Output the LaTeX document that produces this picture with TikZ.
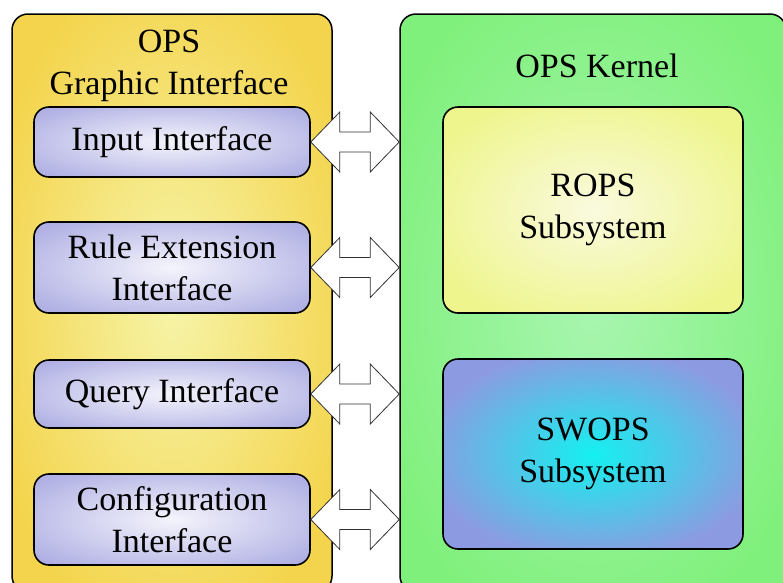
\documentclass[tikz,border=0pt]{standalone}
\usepackage{fontspec}
\setmainfont{Liberation Serif}
\usetikzlibrary{calc}
\definecolor{yEdge}{RGB}{244,212,76}
\definecolor{yMid}{RGB}{246,244,168}
\definecolor{gEdge}{RGB}{128,240,124}
\definecolor{gMid}{RGB}{168,246,176}
\definecolor{lEdge}{RGB}{176,176,228}
\definecolor{lMid}{RGB}{244,244,252}
\definecolor{rEdge}{RGB}{238,245,140}
\definecolor{rMid}{RGB}{250,250,222}
\definecolor{sEdge}{RGB}{140,155,225}
\definecolor{sMid}{RGB}{20,240,240}
\definecolor{arrLine}{RGB}{50,50,50}
\pgfdeclareradialshading{yshade}{\pgfpoint{0bp}{0bp}}{color(0bp)=(yMid); color(30bp)=(yEdge); color(100bp)=(yEdge)}
\pgfdeclareradialshading{gshade}{\pgfpoint{0bp}{0bp}}{color(0bp)=(gMid); color(30bp)=(gEdge); color(100bp)=(gEdge)}
\pgfdeclareradialshading{lshade}{\pgfpoint{0bp}{0bp}}{color(0bp)=(lMid); color(32bp)=(lEdge); color(100bp)=(lEdge)}
\pgfdeclareradialshading{rshade}{\pgfpoint{0bp}{0bp}}{color(0bp)=(rMid); color(30bp)=(rEdge); color(100bp)=(rEdge)}
\pgfdeclareradialshading{sshade}{\pgfpoint{0bp}{0bp}}{color(0bp)=(sMid); color(28bp)=(sEdge); color(100bp)=(sEdge)}
\newcommand{\blockarr}[2]{%
  \draw[blockarr] (#1) -- ($(#1)+(29,-30)$) -- ($(#1)+(29,-10)$) -- ($(#2)+(-29,-10)$) -- ($(#2)+(-29,-30)$) -- (#2)
   -- ($(#2)+(-29,30)$) -- ($(#2)+(-29,10)$) -- ($(#1)+(29,10)$) -- ($(#1)+(29,30)$) -- cycle;}
\begin{document}
\begin{tikzpicture}[x=1pt,y=-1pt,
  every node/.style={font=\fontsize{34}{42}\selectfont, align=center, inner sep=0pt},
  outerbox/.style={draw=black, line width=1.5pt, rounded corners=16pt, shade},
  innerbox/.style={draw=black, line width=1.6pt, rounded corners=15pt, shade},
  blockarr/.style={draw=arrLine, fill=white, line width=0.8pt, line join=miter}]
\useasboundingbox (0,0) rectangle (783,582);
% outer containers
\node[outerbox, shading=yshade, minimum width=320pt, minimum height=578pt] (gui) at (172,303) {};
\node[outerbox, shading=gshade, minimum width=386pt, minimum height=578pt] (kernel) at (593,303) {};
% titles
\node (guititle) at (169,66) {OPS\\Graphic Interface};
\node (kerneltitle) at (597,66) {OPS Kernel};
% left interfaces
\node[innerbox, shading=lshade, minimum width=276pt, minimum height=70pt] (in1) at (172,142) {Input Interface};
\node[innerbox, shading=lshade, minimum width=276pt, minimum height=91pt] (in2) at (172,267.5) {Rule Extension\\Interface};
\node[innerbox, shading=lshade, minimum width=276pt, minimum height=68pt] (in3) at (172,394) {Query Interface};
\node[innerbox, shading=lshade, minimum width=276pt, minimum height=91pt] (in4) at (172,519.5) {Configuration\\Interface};
% subsystems
\node[innerbox, shading=rshade, minimum width=300pt, minimum height=206pt] (rops) at (593,210) {ROPS\\Subsystem};
\node[innerbox, shading=sshade, minimum width=300pt, minimum height=190pt] (swops) at (593,454) {SWOPS\\Subsystem};
% arrow end points
\coordinate (k1) at (in1.east -| kernel.west);
\coordinate (k2) at (in2.east -| kernel.west);
\coordinate (k3) at (in3.east -| kernel.west);
\coordinate (k4) at (in4.east -| kernel.west);
\blockarr{in1.east}{k1}
\blockarr{in2.east}{k2}
\blockarr{in3.east}{k3}
\blockarr{in4.east}{k4}
\end{tikzpicture}
\end{document}
